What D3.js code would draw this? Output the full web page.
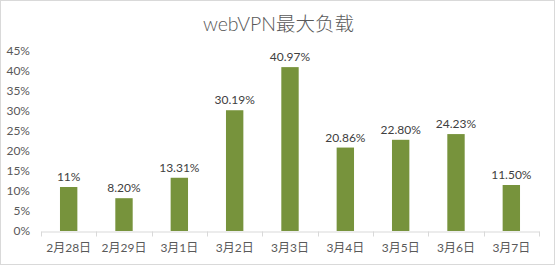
<!DOCTYPE html>
<html>
<head>
<meta charset="utf-8">
<script src="https://cdn.jsdelivr.net/npm/d3@7"></script>
<style>
    body { margin: 0; background: #ffffff; }
    text { font-family: Lato, "Noto Sans CJK SC", sans-serif; }
</style>
</head>
<body>
<div id="chart"></div>
<script>
    // Chart data
    const categories = ["2月28日", "2月29日", "3月1日", "3月2日", "3月3日", "3月4日", "3月5日", "3月6日", "3月7日"];
    const values = [11, 8.20, 13.31, 30.19, 40.97, 20.86, 22.80, 24.23, 11.50];
    const valueLabels = ["11%", "8.20%", "13.31%", "30.19%", "40.97%", "20.86%", "22.80%", "24.23%", "11.50%"];
    const yTicks = [0, 5, 10, 15, 20, 25, 30, 35, 40, 45];
    const title = "webVPN最大负载";

    const width = 555;
    const height = 265;
    const margin = { top: 51, right: 16, bottom: 34, left: 41 };

    const svg = d3.select("#chart")
        .append("svg")
        .attr("width", width)
        .attr("height", height);

    // Chart border
    svg.append("rect")
        .attr("x", 0.5)
        .attr("y", 0.5)
        .attr("width", width - 1)
        .attr("height", height - 1)
        .attr("fill", "#ffffff")
        .attr("stroke", "#d9d9d9");

    const x = d3.scaleBand()
        .domain(categories)
        .range([margin.left, width - margin.right])
        .paddingInner(0.686)
        .paddingOuter(0.343);

    const xOuter = d3.scaleBand()
        .domain(categories)
        .range([margin.left, width - margin.right]);

    const y = d3.scaleLinear()
        .domain([0, 45])
        .range([height - margin.bottom, margin.top]);

    // Title
    svg.append("text")
        .attr("x", width / 2 + 1)
        .attr("y", 31)
        .attr("text-anchor", "middle")
        .style("font-size", "19.5px")
        .style("font-weight", 300)
        .style("fill", "#595959")
        .text(title);

    // Y axis labels (no line)
    svg.append("g")
        .selectAll("text")
        .data(yTicks)
        .enter()
        .append("text")
        .attr("x", 30)
        .attr("y", (d) => y(d))
        .attr("dy", "0.35em")
        .attr("text-anchor", "end")
        .style("font-size", "12px")
        .style("fill", "#595959")
        .text((d) => d + "%");

    // Bars
    svg.append("g")
        .selectAll("rect")
        .data(values)
        .enter()
        .append("rect")
        .attr("x", (d, i) => x(categories[i]))
        .attr("y", (d) => y(d))
        .attr("width", x.bandwidth())
        .attr("height", (d) => y(0) - y(d))
        .attr("fill", "#77933c");

    // Data labels
    svg.append("g")
        .selectAll("text")
        .data(values)
        .enter()
        .append("text")
        .attr("x", (d, i) => x(categories[i]) + x.bandwidth() / 2)
        .attr("y", (d) => y(d) - 6)
        .attr("text-anchor", "middle")
        .style("font-size", "12px")
        .style("fill", "#404040")
        .text((d, i) => valueLabels[i]);

    // X axis
    const xAxis = d3.axisBottom(xOuter)
        .tickSize(0)
        .tickPadding(12);

    const gx = svg.append("g")
        .attr("transform", `translate(0,${Math.round(y(0)) + 0.5})`)
        .call(xAxis);

    gx.select(".domain").attr("stroke", "#d9d9d9");
    gx.selectAll("text")
        .style("font-size", "12px")
        .style("fill", "#595959")
        .style("font-family", "Lato, 'Noto Sans CJK SC', sans-serif");

    // Category boundary ticks
    const boundaries = categories.map((c) => xOuter(c)).concat([width - margin.right]);
    gx.selectAll("line.sep")
        .data(boundaries)
        .enter()
        .append("line")
        .attr("class", "sep")
        .attr("x1", (d) => Math.round(d) + 0.5)
        .attr("x2", (d) => Math.round(d) + 0.5)
        .attr("y1", 0)
        .attr("y2", 5)
        .attr("stroke", "#d9d9d9");
</script>
</body>
</html>
